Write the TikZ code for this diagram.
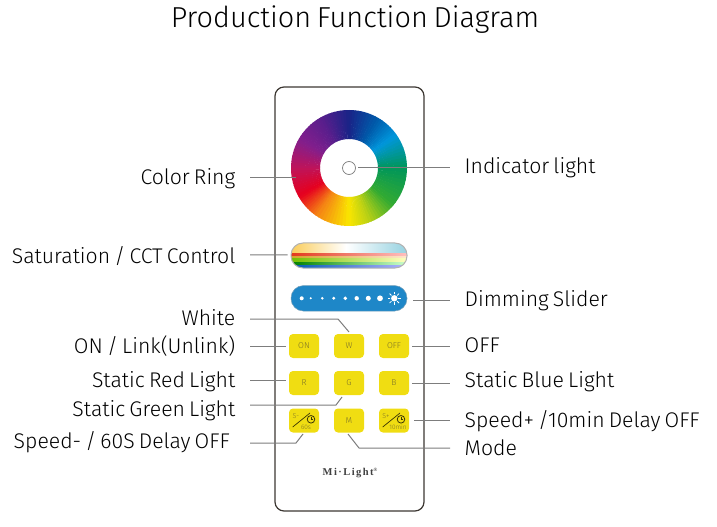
\documentclass[tikz,border=0pt]{standalone}
\usepackage{fontspec}
\setmainfont{Fira Sans Light}[WordSpace=0.7]
\newfontfamily\brandfont[LetterSpace=14]{Liberation Serif}
\usepackage{xcolor}
\definecolor{btn}{RGB}{240,221,18}
\definecolor{btntxt}{RGB}{125,115,40}
\definecolor{wire}{RGB}{125,125,125}
\definecolor{body}{RGB}{60,55,50}
\definecolor{dim}{RGB}{30,135,200}
\definecolor{rA}{RGB}{25,35,135}
\definecolor{rB}{RGB}{0,90,170}
\definecolor{rC}{RGB}{0,150,220}
\definecolor{rD}{RGB}{0,150,90}
\definecolor{rE}{RGB}{50,170,50}
\definecolor{rF}{RGB}{190,210,20}
\definecolor{rG}{RGB}{250,230,0}
\definecolor{rH}{RGB}{245,130,20}
\definecolor{rI}{RGB}{230,0,30}
\definecolor{rJ}{RGB}{190,20,90}
\definecolor{rK}{RGB}{130,30,140}
\definecolor{rL}{RGB}{90,30,140}
\definecolor{satA}{RGB}{250,205,90}
\definecolor{satB}{RGB}{150,210,225}
\begin{document}
\begin{tikzpicture}[x=1bp,y=-1bp,
    lab/.style={font=\fontsize{21.3}{24}\selectfont,inner ysep=0pt,inner xsep=14.5bp,text height=14bp,text depth=0bp},
    leftlab/.style={lab,anchor=east},
    rightlab/.style={lab,anchor=west},
    wired/.style={draw=wire,line width=1bp},
    button/.style={fill=btn,rounded corners=4bp,minimum width=30bp,minimum height=24bp,inner sep=0pt,text=btntxt,font=\fontsize{8.5}{9}\selectfont}]
    \useasboundingbox (0,0) rectangle (717,527);
    \node[font=\fontsize{29}{32}\selectfont] (title) at (355,20) {Production Function Diagram};
    \draw[body,line width=1.2bp,rounded corners=9bp] (275,87) rectangle (424,511);

    % color ring
    \begin{scope}[shift={(349,168)}]
        \foreach \ca/\cb/\ta/\tb in {rA/rB/0/30,rB/rC/30/55,rC/rD/55/90,rD/rE/90/130,rE/rF/130/160,rF/rG/160/180,rG/rH/180/215,rH/rI/215/240,rI/rJ/240/270,rJ/rK/270/300,rK/rL/300/330,rL/rA/330/360}
            \foreach \s in {0,...,9} {
                \pgfmathsetmacro\pa{\ta+(\tb-\ta)*\s/10-90}
                \pgfmathsetmacro\pb{\pa+(\tb-\ta)/10+.6}
                \pgfmathsetmacro\pc{\s*10+5}
                \fill[\cb!\pc!\ca] (\pa:29) -- (\pa:58) -- (\pb:58) -- (\pb:29) -- cycle;
            }
    \end{scope}
    \node[draw=wire,circle,line width=.7bp,minimum size=13bp,inner sep=0pt] (ind) at (349,168) {};
    \coordinate (ringend) at (296,178);

    % saturation bar
    \begin{scope}
        \clip[rounded corners=12bp] (291,243) rectangle (407,268);
        \shade[left color=satA,right color=white] (291,243) rectangle (346,254.5);
        \shade[left color=white,right color=satB] (346,243) rectangle (407,254.5);
        \foreach \ya/\yb/\cl/\cr in {254/256.5/red!55!brown/red!25!white,256.5/259/brown!70!yellow/orange!20!white,259/262/yellow!60!green!75!black/yellow!25!white,262/265.5/green!50!black/green!20!white,265.5/268/blue!50!cyan!70!black/blue!30!white}
            \shade[left color=\cl,right color=\cr] (291,\ya) rectangle (407,\yb);
    \end{scope}
    \node[draw=black!30,line width=1bp,rounded corners=12bp,minimum width=116bp,minimum height=25bp,inner sep=0pt] (sat) at (349,255.5) {};

    % dimming slider
    \node[fill=dim,draw=dim!70!black!60!white,line width=.5bp,rounded corners=12.5bp,minimum width=116bp,minimum height=25.5bp,inner sep=0pt] (dimmer) at (349,298.3) {};
    \foreach \x/\r in {301.7/2,310.7/1.1,322.3/1.4,333.7/1.6,345.3/1.9,356.7/2.2,368.3/2.5,380/2.9}
        \fill[white] (\x,298.3) circle[radius=\r];
    \fill[white] (394.3,298.3) circle[radius=3.2];
    \foreach \a in {0,45,...,315}
        \draw[white,line width=.8bp] (394.3,298.3) ++(\a:4) -- ++(\a:2.7);

    % buttons
    \foreach \n/\x/\y/\t in {ON/304/346/ON,W/349/346/W,OFF/394/346/OFF,R/304/383/R,G/349/383/G,B/394/383/B,Sm/304/420.5/,M/349/420.5/M,Sp/394/420.5/}
        \node[button] (\n) at (\x,\y) {\t};
    \foreach \x/\s/\t/\tx in {0/S-/60s/306,90/S+/10min/398} {
        \node[inner sep=0pt,text=btntxt,font=\fontsize{7}{8}\selectfont] (s\x) at (296+\x,416.5) {\s};
        \draw[black!75!btn,line width=.7bp] (292.7+\x,427) -- (310+\x,413);
        \draw[black!75!btn,line width=.8bp] (311+\x,419.3) circle[radius=3.8];
        \draw[black!75!btn,line width=.5bp] (311+\x,417) -- (311+\x,419.5) -- (313+\x,419.5);
        \node[inner sep=0pt,text=btntxt,font=\fontsize{6.5}{7}\selectfont] (t\x) at (\tx,427) {\t};
    }
    \node[inner sep=0pt,font=\fontsize{10.5}{11}\brandfont\bfseries,text=black!75] (brand) at (350,473) {Mi·Light\raisebox{4bp}{\fontsize{5}{5}\selectfont ®}};

    % labels left
    \node[leftlab] (lring) at (250,178) {Color Ring};
    \node[leftlab] (lsat) at (250,257) {Saturation / CCT Control};
    \node[leftlab] (lwhite) at (250,318) {White};
    \node[leftlab] (lon) at (250,346) {ON / Link(Unlink)};
    \node[leftlab] (lred) at (250,380) {Static Red Light};
    \node[leftlab] (lgreen) at (250,409) {Static Green Light};
    \node[leftlab,inner xsep=20bp] (lminus) at (250,441) {Speed- / 60S Delay OFF};
    % labels right
    \node[rightlab] (lind) at (450,167) {Indicator light};
    \node[rightlab] (ldim) at (450,299) {Dimming Slider};
    \node[rightlab] (loff) at (450,345) {OFF};
    \node[rightlab] (lblue) at (450,380) {Static Blue Light};
    \node[rightlab] (lplus) at (450,420) {Speed+ /10min Delay OFF};
    \node[rightlab] (lmode) at (450,448) {Mode};

    \coordinate (wbend) at (338,319);
    \coordinate (wtip) at (349,332);
    \coordinate (gbend) at (336,405);
    \coordinate (gtip) at (342,397);
    \coordinate (mibend) at (296,443);
    \coordinate (mitip) at (303,434);
    \coordinate (motip) at (348,434);
    \coordinate (mobend) at (359,448);

    \draw[wired] (lring.east) -- (ringend);
    \draw[wired,shorten >=3bp] ([yshift=2bp]lsat.east) -- (sat.west |- 0,255);
    \draw[wired,shorten >=3bp] (lon.east) -- (ON.west);
    \draw[wired,shorten >=3bp] (lred.east) -- (R.west |- lred.east);
    \draw[wired] ([yshift=-1bp]lwhite.east) -- (wbend) -- (wtip);
    \draw[wired] ([yshift=4bp]lgreen.east) -- (gbend) -- (gtip);
    \draw[wired] ([yshift=-2bp]lminus.east) -- (mibend) -- (mitip);
    \draw[wired,shorten <=2.5bp] (ind.east) -- (lind.west |- ind.east);
    \draw[wired,shorten <=6bp] (dimmer.east |- 0,300) -- ([yshift=-1bp]ldim.west);
    \draw[wired,shorten <=3bp] (OFF.east) -- (loff.west |- OFF.east);
    \draw[wired,shorten <=3bp] (B.east) -- (lblue.west |- B.east);
    \draw[wired,shorten <=5bp] (Sp.east) -- (lplus.west |- Sp.east);
    \draw[wired] (motip) -- (mobend) -- (lmode.west);
\end{tikzpicture}
\end{document}
